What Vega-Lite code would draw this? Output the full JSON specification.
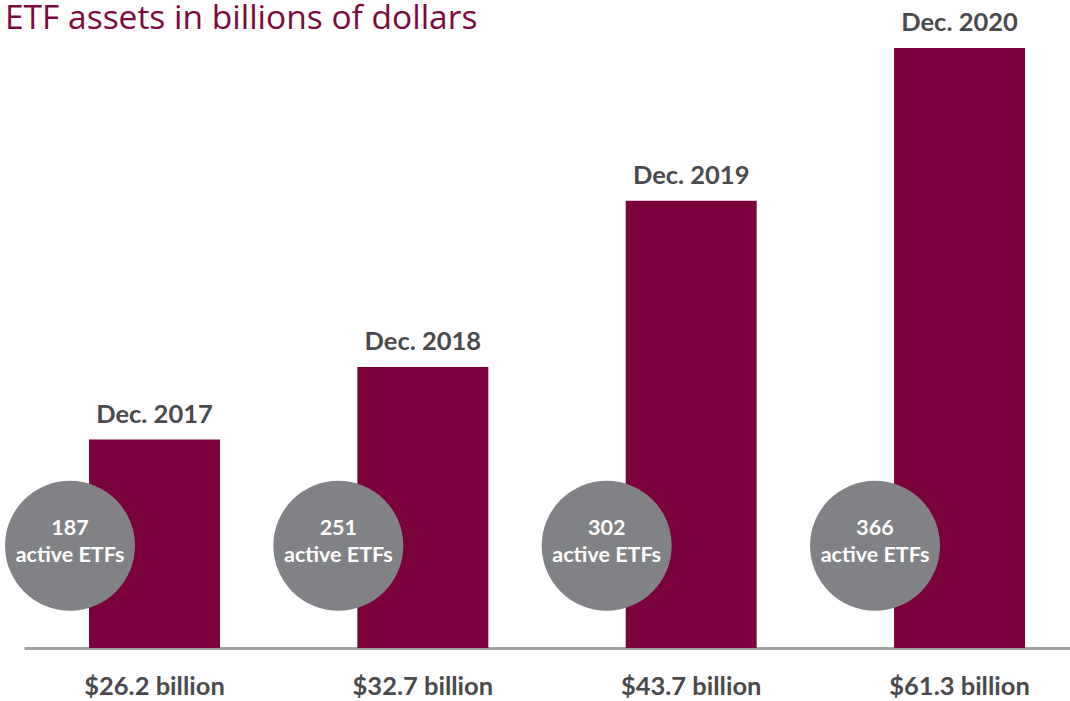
{
  "$schema": "https://vega.github.io/schema/vega-lite/v6.json",
  "autosize": {"type": "none"},
  "padding": {"left": 24, "top": 0, "right": 0, "bottom": 53},
  "width": 1046,
  "height": 648,
  "background": "white",
  "config": {"view": {"stroke": null}},
  "title": {
    "text": "ETF assets in billions of dollars",
    "anchor": "start",
    "frame": "group",
    "orient": "top",
    "offset": 0,
    "dy": 62,
    "dx": -19,
    "font": "Open Sans",
    "fontSize": 33.5,
    "fontWeight": "normal",
    "color": "#7b0a3d",
    "baseline": "alphabetic"
  },
  "data": {
    "values": [
      {"period": "Dec. 2017", "assets_label": "$26.2 billion", "bar": 21.3, "etfs": 187},
      {"period": "Dec. 2018", "assets_label": "$32.7 billion", "bar": 28.7, "etfs": 251},
      {"period": "Dec. 2019", "assets_label": "$43.7 billion", "bar": 45.7, "etfs": 302},
      {"period": "Dec. 2020", "assets_label": "$61.3 billion", "bar": 61.3, "etfs": 366}
    ]
  },
  "transform": [
    {"calculate": "datum.etfs + '\\n' + 'active ETFs'", "as": "etf_text"}
  ],
  "encoding": {
    "x": {
      "field": "assets_label",
      "type": "nominal",
      "sort": null,
      "scale": {"paddingInner": 0.512, "paddingOuter": 0.205, "align": 0.591},
      "axis": {
        "title": null,
        "ticks": false,
        "tickSize": 0,
        "labelAngle": 0,
        "labelPadding": 46,
        "labelBaseline": "alphabetic",
        "labelFont": "Lato",
        "labelFontSize": 25.5,
        "labelFontWeight": "bold",
        "labelColor": "#4a4a4c",
        "domainColor": "#a3a3a3",
        "domainWidth": 3,
        "grid": false
      }
    }
  },
  "layer": [
    {
      "mark": {"type": "bar", "color": "#7b003b"},
      "encoding": {
        "y": {"field": "bar", "type": "quantitative", "scale": {"domain": [0, 66.2], "nice": false}, "axis": null}
      }
    },
    {
      "mark": {"type": "text", "dy": -17, "baseline": "alphabetic", "align": "center", "font": "Lato", "fontSize": 25.5, "fontWeight": "bold", "color": "#4a4a4c"},
      "encoding": {
        "y": {"field": "bar", "type": "quantitative"},
        "text": {"field": "period", "type": "nominal"}
      }
    },
    {
      "mark": {"type": "point", "shape": "circle", "filled": true, "opacity": 1, "color": "#808285", "size": 16900, "xOffset": -84.5},
      "encoding": {
        "y": {"datum": 10.45, "type": "quantitative"}
      }
    },
    {
      "mark": {"type": "text", "lineBreak": "\n", "lineHeight": 27.5, "baseline": "alphabetic", "align": "center", "xOffset": -84.5, "dy": -11, "font": "Lato", "fontSize": 21.5, "fontWeight": "bold", "color": "white"},
      "encoding": {
        "y": {"datum": 10.45, "type": "quantitative"},
        "text": {"field": "etf_text", "type": "nominal"}
      }
    }
  ]
}
